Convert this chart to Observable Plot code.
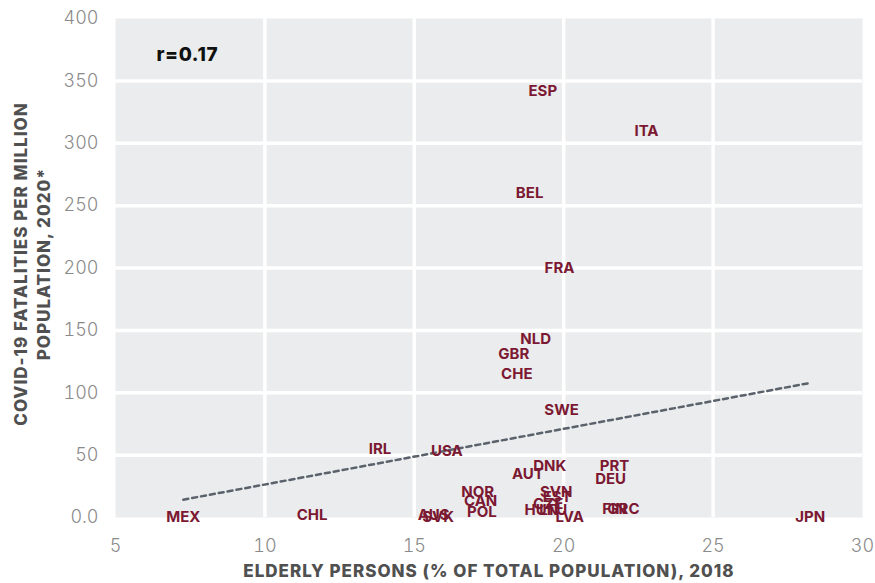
<!DOCTYPE html>
<html>
<head>
<meta charset="utf-8">
<script src="https://cdn.jsdelivr.net/npm/d3@7"></script>
<script src="https://cdn.jsdelivr.net/npm/@observablehq/plot@0.6"></script>
<style>
  html, body { margin: 0; padding: 0; background: #ffffff; }
  #chart { width: 875px; height: 583px; }
  svg { font-family: Inter, "Noto Sans", sans-serif; }
</style>
</head>
<body>
<div id="chart"></div>
<script>
// Country codes
const countries = ["ESP","ITA","BEL","FRA","NLD","GBR","CHE","SWE","IRL","USA",
  "DNK","PRT","AUT","DEU","NOR","SVN","CAN","EST","CZE","HUN","POL","LTU",
  "LVA","FIN","GRC","AUS","SVK","MEX","CHL","JPN"];
// Elderly persons (% of total population), 2018
const elderly = [19.3,22.77,18.86,19.86,19.06,18.33,18.43,19.93,13.85,16.09,
  19.53,21.7,18.8,21.57,17.12,19.75,17.22,19.78,19.48,19.25,17.26,19.65,
  20.2,21.7,22.0,15.65,15.8,7.27,11.58,28.25];
// COVID-19 fatalities per million population, 2020
const fatalities = [342,310,260,200,143,131,115,86,55,53,
  41,41,34.5,31,20,20,13,16,11,5.6,4,5.6,
  0,6.4,6.4,2,0,0,1.5,0];
// Axis ticks
const xTicks = [5,10,15,20,25,30];
const yTicks = [0,50,100,150,200,250,300,350,400];
const xGrid = [10,15,20,25];
const yGrid = [50,100,150,200,250,300,350];
const corrLabel = ["r=0.17"];
const xTitle = ["ELDERLY PERSONS (% OF TOTAL POPULATION), 2018"];
const yTitle = ["COVID-19 FATALITIES PER MILLION\nPOPULATION, 2020*"];

const rows = countries.map((c, i) => ({code: c, x: elderly[i], y: fatalities[i]}));
const yFmt = d => d === 0 ? "0.0" : String(d);

const chart = Plot.plot({
  width: 875,
  height: 583,
  marginLeft: 115,
  marginRight: 13,
  marginTop: 18,
  marginBottom: 66,
  style: {fontFamily: "Inter, 'Noto Sans', sans-serif", background: "#ffffff"},
  x: {domain: [5, 30], ticks: xTicks, label: null},
  y: {domain: [0, 400], ticks: yTicks, label: null},
  marks: [
    Plot.frame({fill: "#ebeced", stroke: "none"}),
    Plot.gridX(xGrid, {stroke: "#ffffff", strokeOpacity: 1, strokeWidth: 3.5}),
    Plot.gridY(yGrid, {stroke: "#ffffff", strokeOpacity: 1, strokeWidth: 3.5}),
    Plot.axisX({ticks: xTicks, tickSize: 0, tickPadding: 22, fontSize: 18, fill: "#8a8a8a", fontWeight: 300, label: null}),
    Plot.axisY({ticks: yTicks, tickSize: 0, tickPadding: 17, fontSize: 18, fill: "#8a8a8a", fontWeight: 300, label: null,
      tickFormat: yFmt}),
    Plot.linearRegressionY(rows, {x: "x", y: "y", ci: 0, stroke: "#5a626c", strokeWidth: 2.5, strokeDasharray: "5,4"}),
    Plot.text(rows, {x: "x", y: "y", text: "code", fill: "#7b1832", fontSize: 15, fontWeight: 700}),
    Plot.text(corrLabel, {text: d => d, frameAnchor: "top-left", dx: 41, dy: 29, textAnchor: "start",
      fontSize: 19, fontWeight: 800, fill: "#111111"}),
    Plot.text(xTitle, {text: d => d, frameAnchor: "bottom", textAnchor: "middle",
      dy: 59, fontSize: 17, fontWeight: 800, fill: "#505050"}),
    Plot.text(yTitle, {text: d => d, frameAnchor: "left", textAnchor: "middle", lineAnchor: "middle",
      dx: -84, dy: -4, rotate: -90, lineHeight: 1.35, fontSize: 17, fontWeight: 800, fill: "#505050"})
  ]
});
// letter spacing for the titles (Plot has no letterSpacing option)
chart.querySelectorAll("text").forEach(t => {
  const s = t.textContent;
  if (s.startsWith("ELDERLY") || s.startsWith("COVID")) t.style.letterSpacing = "1px";
  if (s === "r=0.17") t.style.letterSpacing = "0.6px";
});
document.getElementById("chart").appendChild(chart);
</script>
</body>
</html>
